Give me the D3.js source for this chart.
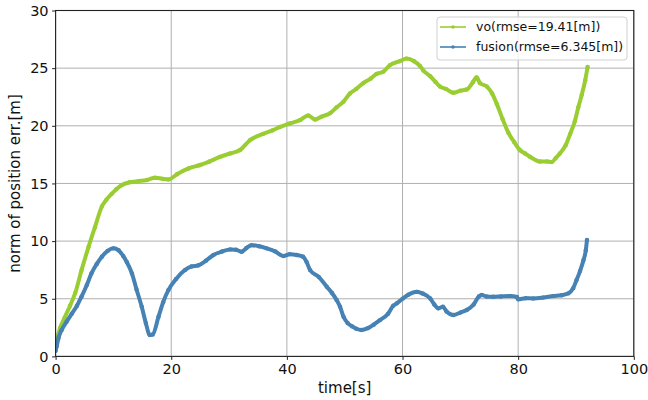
<!DOCTYPE html>
<html>
<head>
<meta charset="utf-8">
<script src="https://cdn.jsdelivr.net/npm/d3@7"></script>
<style>
  html, body { margin: 0; padding: 0; background: #fff; }
  svg { display: block; font-family: "DejaVu Sans", sans-serif; }
</style>
</head>
<body>
<svg id="chart" width="648" height="400"></svg>
<script>
// Position error norm over time: visual odometry vs. fused estimate.
const xTicks = [0, 20, 40, 60, 80, 100];
const yTicks = [0, 5, 10, 15, 20, 25, 30];
const seriesNames = ["vo(rmse=19.41[m])", "fusion(rmse=6.345[m])"];

// [time s, error m]
const voData = [
  [0,1.5],[0.2,1.6],[0.8,2.5],[1.6,3.4],[2.5,4.4],[3.4,5.5],[4.5,7.5],[5.7,9.5],[6.8,11.2],[8.0,13.0],
  [8.8,13.6],[9.7,14.1],[10.5,14.5],[11.4,14.85],[12.8,15.1],[14.3,15.2],[15.8,15.3],[17.2,15.5],[18.5,15.4],
  [19.5,15.35],[21,15.8],[23,16.3],[25,16.6],[26.6,16.9],[28.4,17.3],[30.2,17.6],[31.9,17.9],
  [33.6,18.75],[35.9,19.3],[37.5,19.6],[38.8,19.9],[40.5,20.2],[42.3,20.5],[43.7,20.9],[44.9,20.55],
  [46,20.8],[47.5,21.1],[48.6,21.6],[49.8,22.1],[50.9,22.8],[52.0,23.2],[53.2,23.7],[54.5,24.1],
  [55.5,24.5],[56.7,24.7],[57.8,25.25],[59.5,25.6],[60.7,25.83],[62.0,25.6],[63.0,25.2],[63.6,24.8],
  [64.8,24.3],[65.7,23.8],[66.5,23.4],[67.5,23.2],[68.8,22.86],[70.0,23.05],[71.1,23.15],[72.2,23.8],
  [72.8,24.2],[73.4,23.7],[74.6,23.4],[75.5,22.8],[76.3,21.9],[77.3,20.6],[78.3,19.4],[79.3,18.6],
  [80.3,17.9],[81.2,17.6],[82.1,17.3],[83.8,16.9],[85.0,16.9],[85.8,16.85],[86.5,17.2],[87.2,17.6],
  [88.2,18.3],[89.0,19.3],[89.8,20.4],[90.4,21.6],[91.0,22.7],[91.6,23.95],[92.0,25.1]
];
const fusionData = [
  [0,0.5],[0.2,0.9],[0.5,1.6],[1.05,2.3],[1.9,3.0],[2.8,3.7],[3.7,4.4],[4.5,5.2],[5.4,6.2],
  [6.2,7.2],[7.1,8.0],[8.0,8.64],[9.0,9.15],[10.0,9.37],[10.9,9.2],[11.7,8.7],[12.3,8.2],[13.2,7.2],[14.0,5.8],
  [14.9,4.3],[15.6,2.9],[16.3,1.85],[16.8,1.9],[17.8,3.44],[18.6,4.7],[19.5,5.75],[20.8,6.7],
  [22.4,7.5],[23.5,7.8],[24.7,7.9],[26,8.3],[27.3,8.8],[28.8,9.1],[30.2,9.28],[31.2,9.25],[32.2,9.07],
  [33.0,9.4],[33.9,9.65],[35.2,9.55],[36.5,9.37],[38,9.1],[39.4,8.7],[40.5,8.87],[41.7,8.8],[42.8,8.64],
  [43.4,8.2],[44.0,7.49],[45.5,6.9],[46.9,6.04],[47.8,5.5],[48.6,4.89],[49.2,4.3],[49.8,3.44],
  [50.5,2.9],[51.3,2.6],[52.0,2.4],[52.9,2.29],[54.0,2.45],[55.0,2.75],[56.1,3.15],[57.5,3.7],
  [58.4,4.4],[59.0,4.6],[60.0,5.0],[61.0,5.35],[62.5,5.6],[63.5,5.45],[64.8,5.03],[65.5,4.5],
  [66.2,4.17],[67.0,4.3],[67.6,3.9],[68.8,3.59],[70.0,3.8],[71.1,4.02],[72.3,4.5],[73.2,5.2],
  [73.7,5.32],[74.5,5.2],[75.7,5.17],[77,5.2],[78.6,5.23],[79.8,5.15],[80.0,4.95],[81.3,5.05],
  [82.6,5.03],[84.3,5.1],[86.1,5.23],[87.5,5.3],[88.7,5.47],[89.5,5.9],[90.1,6.62],[90.7,7.4],
  [91.3,8.35],[91.7,9.2],[91.9,10.1]
];
const colors = ["#9acd32", "#4682b4"];

const svg = d3.select("#chart");
const m = { left: 55.6, right: 648 - 633.8, top: 10.5, bottom: 400 - 356.4 };
const W = 648 - m.left - m.right, H = 400 - m.top - m.bottom;

const x = d3.scaleLinear().domain([0, 100]).range([m.left, m.left + W]);
const y = d3.scaleLinear().domain([0, 30]).range([m.top + H, m.top]);

// grid
const grid = svg.append("g").attr("stroke", "#b0b0b0").attr("stroke-width", 1);
xTicks.forEach(t => grid.append("line").attr("x1", x(t)).attr("x2", x(t)).attr("y1", m.top).attr("y2", m.top + H));
yTicks.forEach(t => grid.append("line").attr("y1", y(t)).attr("y2", y(t)).attr("x1", m.left).attr("x2", m.left + W));

// series
const plot = svg.append("g");
plot.append("defs").append("clipPath").attr("id", "clip")
  .append("rect").attr("x", m.left).attr("y", m.top).attr("width", W).attr("height", H);
const line = d3.line().x(d => x(d[0])).y(d => y(d[1])).curve(d3.curveMonotoneX);
[voData, fusionData].forEach((data, i) => {
  const g = plot.append("g").attr("clip-path", "url(#clip)");
  g.append("path").datum(data).attr("d", line).attr("fill", "none")
    .attr("stroke", colors[i]).attr("stroke-width", 4)
    .attr("stroke-linejoin", "round").attr("stroke-linecap", "round");
  g.selectAll("circle").data(data).join("circle")
    .attr("cx", d => x(d[0])).attr("cy", d => y(d[1])).attr("r", 2.2).attr("fill", colors[i]);
});

// axes
const tickFont = "14.5px";
const labelFont = "15px";
const xAxis = svg.append("g").attr("transform", `translate(0,${m.top + H})`)
  .call(d3.axisBottom(x).tickValues(xTicks).tickSize(3.5).tickPadding(3.5).tickFormat(d3.format("d")));
const yAxis = svg.append("g").attr("transform", `translate(${m.left},0)`)
  .call(d3.axisLeft(y).tickValues(yTicks).tickSize(3.5).tickPadding(3.5).tickFormat(d3.format("d")));
[xAxis, yAxis].forEach(a => {
  a.select(".domain").remove();
  a.selectAll(".tick line").attr("stroke", "#222").attr("stroke-width", 1);
  a.selectAll(".tick text").attr("fill", "#111").style("font-size", tickFont)
    .style("font-family", "DejaVu Sans, sans-serif");
});

// spines
svg.append("rect").attr("x", m.left).attr("y", m.top).attr("width", W).attr("height", H)
  .attr("fill", "none").attr("stroke", "#222").attr("stroke-width", 1.1);

// axis labels
svg.append("text").attr("x", m.left + W / 2).attr("y", 393).attr("text-anchor", "middle")
  .attr("fill", "#111").style("font-size", labelFont).text("time[s]");
svg.append("text").attr("transform", `translate(20,${m.top + H / 2}) rotate(-90)`)
  .attr("text-anchor", "middle").attr("fill", "#111").style("font-size", labelFont)
  .text("norm of position err.[m]");

// legend
const lg = svg.append("g").attr("transform", "translate(437,17)");
lg.append("rect").attr("width", 190).attr("height", 43).attr("rx", 3)
  .attr("fill", "#fff").attr("fill-opacity", 0.8).attr("stroke", "#d0d0d0");
seriesNames.forEach((name, i) => {
  const cy = 10 + i * 20;
  lg.append("line").attr("x1", 3).attr("x2", 29).attr("y1", cy).attr("y2", cy)
    .attr("stroke", colors[i]).attr("stroke-width", 1.6);
  lg.append("circle").attr("cx", 16).attr("cy", cy).attr("r", 1.8).attr("fill", colors[i]);
  lg.append("text").attr("x", 39).attr("y", cy).attr("dy", "0.35em")
    .attr("fill", "#111").style("font-size", "12.5px").text(name);
});
</script>
</body>
</html>
